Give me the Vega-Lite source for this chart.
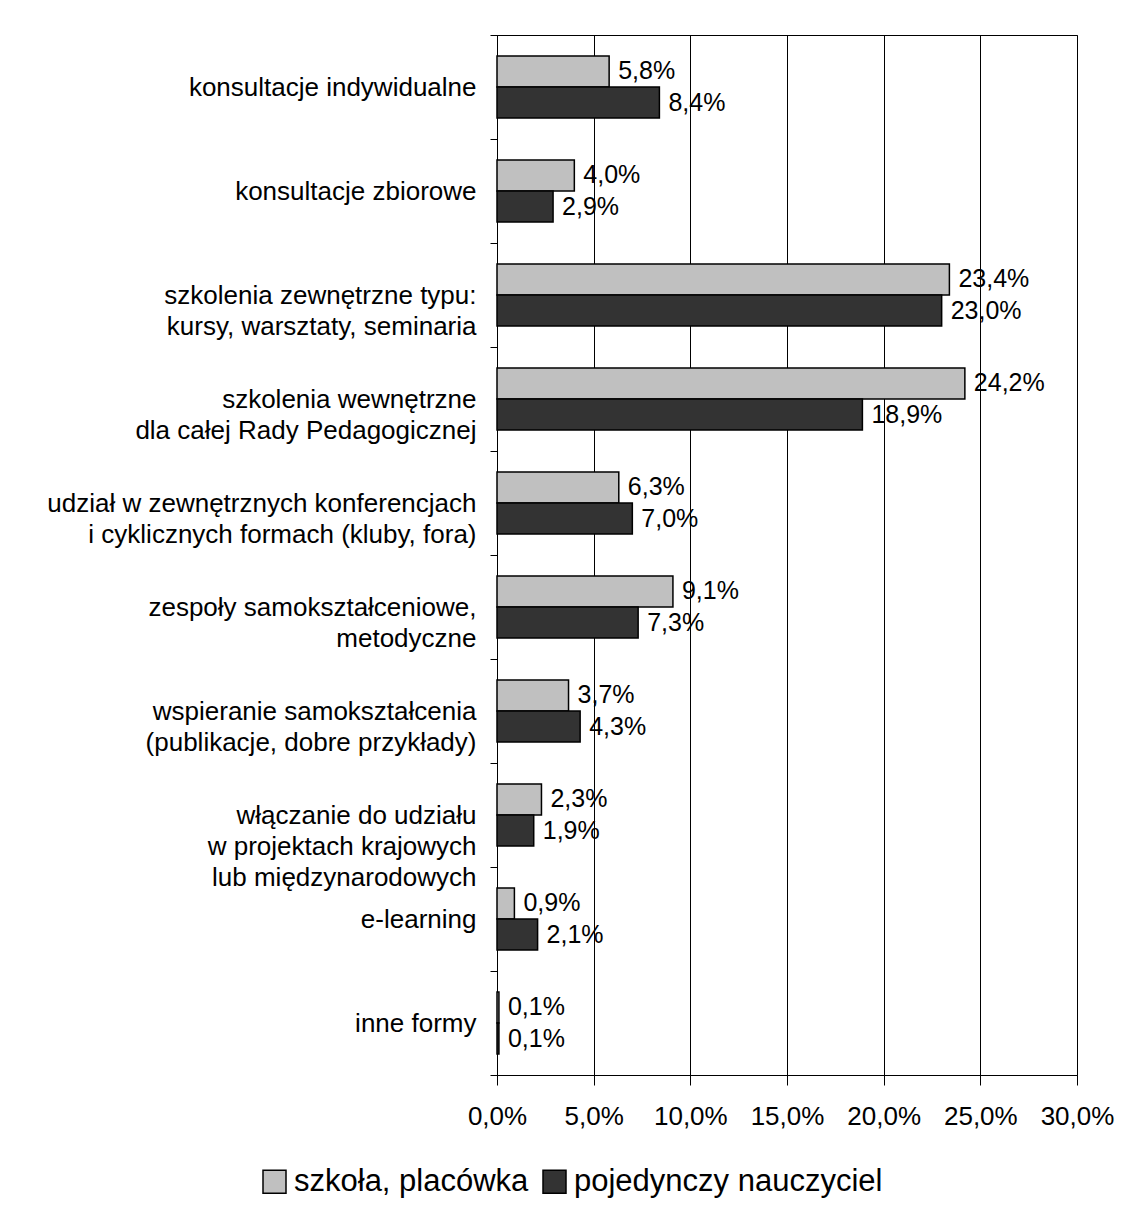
{
  "$schema": "https://vega.github.io/schema/vega-lite/v6.json",
  "width": 580,
  "height": 1040,
  "autosize": {"type": "none"},
  "padding": {"left": 497, "top": 35, "right": 53, "bottom": 133},
  "background": "white",
  "config": {"font": "Liberation Sans", "view": {"stroke": "#000", "strokeWidth": 1}},
  "data": {
    "values": [
      {"cat": "konsultacje indywidualne", "series": "szkoła, placówka", "v": 5.8},
      {"cat": "konsultacje indywidualne", "series": "pojedynczy nauczyciel", "v": 8.4},
      {"cat": "konsultacje zbiorowe", "series": "szkoła, placówka", "v": 4.0},
      {"cat": "konsultacje zbiorowe", "series": "pojedynczy nauczyciel", "v": 2.9},
      {"cat": "szkolenia zewnętrzne typu:|kursy, warsztaty, seminaria", "series": "szkoła, placówka", "v": 23.4},
      {"cat": "szkolenia zewnętrzne typu:|kursy, warsztaty, seminaria", "series": "pojedynczy nauczyciel", "v": 23.0},
      {"cat": "szkolenia wewnętrzne|dla całej Rady Pedagogicznej", "series": "szkoła, placówka", "v": 24.2},
      {"cat": "szkolenia wewnętrzne|dla całej Rady Pedagogicznej", "series": "pojedynczy nauczyciel", "v": 18.9},
      {"cat": "udział w zewnętrznych konferencjach|i cyklicznych formach (kluby, fora)", "series": "szkoła, placówka", "v": 6.3},
      {"cat": "udział w zewnętrznych konferencjach|i cyklicznych formach (kluby, fora)", "series": "pojedynczy nauczyciel", "v": 7.0},
      {"cat": "zespoły samokształceniowe,|metodyczne", "series": "szkoła, placówka", "v": 9.1},
      {"cat": "zespoły samokształceniowe,|metodyczne", "series": "pojedynczy nauczyciel", "v": 7.3},
      {"cat": "wspieranie samokształcenia|(publikacje, dobre przykłady)", "series": "szkoła, placówka", "v": 3.7},
      {"cat": "wspieranie samokształcenia|(publikacje, dobre przykłady)", "series": "pojedynczy nauczyciel", "v": 4.3},
      {"cat": "włączanie do udziału|w projektach krajowych|lub międzynarodowych", "series": "szkoła, placówka", "v": 2.3},
      {"cat": "włączanie do udziału|w projektach krajowych|lub międzynarodowych", "series": "pojedynczy nauczyciel", "v": 1.9},
      {"cat": "e-learning", "series": "szkoła, placówka", "v": 0.9},
      {"cat": "e-learning", "series": "pojedynczy nauczyciel", "v": 2.1},
      {"cat": "inne formy", "series": "szkoła, placówka", "v": 0.1},
      {"cat": "inne formy", "series": "pojedynczy nauczyciel", "v": 0.1}
    ]
  },
  "transform": [
    {"calculate": "replace(format(datum.v, '.1f'), '.', ',') + '%'", "as": "lbl"}
  ],
  "encoding": {
    "y": {
      "field": "cat",
      "type": "nominal",
      "sort": null,
      "scale": {"paddingInner": 0, "paddingOuter": 0},
      "axis": {
        "title": null,
        "labelExpr": "split(datum.label, '|')",
        "labelFontSize": 26,
        "labelColor": "#000",
        "labelLineHeight": 31,
        "labelPadding": 14,
        "labelLimit": 700,
        "labelAlign": "right",
        "labelBaseline": "middle",
        "tickSize": 7,
        "tickBand": "extent",
        "tickColor": "#000",
        "domainColor": "#000",
        "grid": false
      }
    },
    "yOffset": {
      "field": "series",
      "sort": ["szkoła, placówka", "pojedynczy nauczyciel"],
      "scale": {"paddingInner": 0, "paddingOuter": 0.677}
    },
    "x": {
      "field": "v",
      "type": "quantitative",
      "scale": {"domain": [0, 30], "nice": false},
      "axis": {
        "title": null,
        "values": [0, 5, 10, 15, 20, 25, 30],
        "labelExpr": "replace(format(datum.value, '.1f'), '.', ',') + '%'",
        "labelFontSize": 26,
        "labelColor": "#000",
        "labelPadding": 18,
        "labelFlush": false,
        "labelOverlap": false,
        "tickSize": 10,
        "tickColor": "#000",
        "domainColor": "#000",
        "grid": true,
        "gridColor": "#000",
        "gridWidth": 1
      }
    }
  },
  "layer": [
    {
      "mark": {"type": "bar", "stroke": "#000", "strokeWidth": 1.5},
      "encoding": {
        "color": {
          "field": "series",
          "type": "nominal",
          "scale": {"domain": ["szkoła, placówka", "pojedynczy nauczyciel"], "range": ["#c0c0c0", "#333333"]},
          "legend": {
            "orient": "none",
            "legendX": -238,
            "legendY": 1131,
            "direction": "horizontal",
            "title": null,
            "symbolType": "square",
            "symbolSize": 529,
            "symbolStrokeColor": "#000",
            "symbolStrokeWidth": 1.5,
            "symbolOpacity": 1,
            "labelFontSize": 31,
            "labelColor": "#000",
            "labelOffset": 4,
            "labelLimit": 0,
            "columnPadding": 10
          }
        }
      }
    },
    {
      "mark": {"type": "text", "align": "left", "baseline": "middle", "dx": 9, "fontSize": 25, "color": "#000"},
      "encoding": {"text": {"field": "lbl"}}
    }
  ]
}
